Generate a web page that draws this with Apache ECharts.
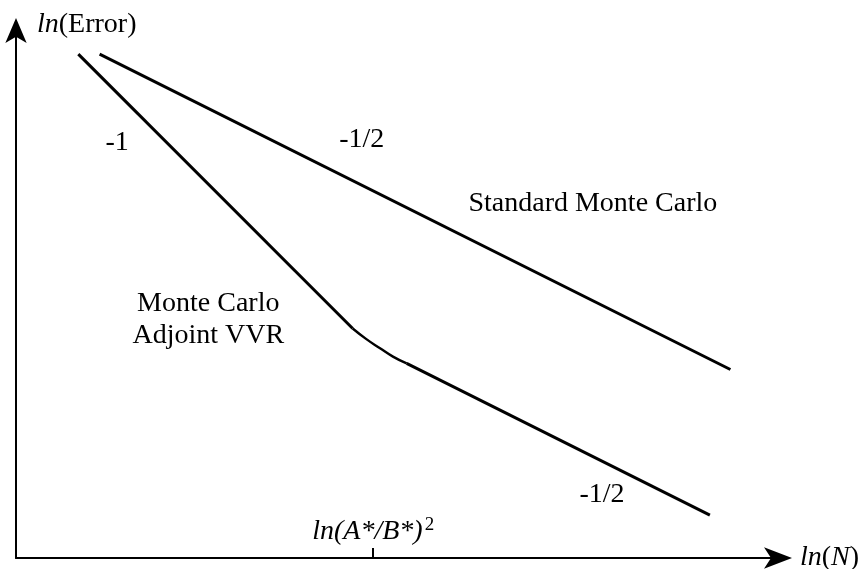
<!DOCTYPE html>
<html>
<head>
<meta charset="utf-8">
<script src="https://cdn.jsdelivr.net/npm/echarts@6/dist/echarts.min.js"></script>
<style>
  html, body { margin: 0; padding: 0; background: #fff; }
  #chart { width: 865px; height: 569px; }
</style>
</head>
<body>
<div id="chart"></div>
<script>
// Error-versus-sample-size sketch in ln/ln units (equal scale on both axes)
const FONT = 'Liberation Serif';
const FS = 28;

// Standard Monte Carlo: slope -1/2 throughout
const stdX = [1.10, 9.40];
const stdY = [6.63, 2.48];

// Monte Carlo with adjoint VVR: slope -1, a bend, then slope -1/2
const adjSteepX = [0.82, 4.43];
const adjSteepY = [6.63, 3.02];
const adjBendX = [4.43, 4.61, 4.79, 4.96, 5.14];
const adjBendY = [3.02, 2.88, 2.76, 2.65, 2.56];
const adjShallowX = [5.14, 9.13];
const adjShallowY = [2.56, 0.565];

// crossover point marked on the ln(N) axis
const crossoverX = [4.70];

// annotation texts and where they sit (data units)
const noteText = ['-1', '-1/2', 'Standard Monte Carlo', 'Monte Carlo\nAdjoint VVR', '-1/2'];
const noteX = [1.33, 4.55, 7.59, 2.53, 7.71];
const noteY = [5.46, 5.51, 4.66, 3.13, 0.83];

const zip = (xs, ys) => xs.map((x, i) => [x, ys[i]]);

const lineSeries = (xs, ys, width, smooth) => ({
  type: 'line',
  data: zip(xs, ys),
  showSymbol: false,
  smooth: smooth,
  silent: true,
  lineStyle: { color: '#000', width: width },
  z: 3
});

const italic = { fontFamily: FONT, fontSize: FS, fontStyle: 'italic', color: '#000' };
const upright = { fontFamily: FONT, fontSize: FS, color: '#000' };

const chart = echarts.init(document.getElementById('chart'), null, { renderer: 'canvas' });

chart.setOption({
  animation: false,
  backgroundColor: '#fff',
  textStyle: { fontFamily: FONT, color: '#000' },
  grid: {
    left: 16, right: 89, top: 26, bottom: 11,
    containLabel: false,
    outerBoundsMode: 'none'
  },
  xAxis: {
    type: 'value',
    min: 0, max: 10,
    splitLine: { show: false },
    axisLine: {
      show: true, onZero: false,
      symbol: ['none', 'arrow'],
      symbolSize: [16, 28],
      symbolOffset: [0, 16],
      lineStyle: { color: '#000', width: 2 }
    },
    axisTick: {
      show: true, inside: true, length: 10,
      customValues: crossoverX,
      lineStyle: { color: '#000', width: 2 }
    },
    axisLabel: {
      show: true, inside: true, margin: 11,
      customValues: crossoverX,
      formatter: () => '{i|ln(A*/B*)}{s|2}',
      rich: {
        i: italic,
        s: { fontFamily: FONT, fontSize: 19, color: '#000', padding: [0, 0, 12, 2] }
      }
    },
    name: '{i|ln}{n|(}{i|N}{n|)}',
    nameLocation: 'end',
    nameGap: 24,
    nameTextStyle: {
      align: 'left', verticalAlign: 'middle',
      rich: { i: italic, n: upright }
    }
  },
  yAxis: {
    type: 'value',
    min: 0, max: 7,
    splitLine: { show: false },
    axisTick: { show: false },
    axisLabel: { show: false },
    axisLine: {
      show: true, onZero: false,
      symbol: ['none', 'arrow'],
      symbolSize: [16, 25],
      symbolOffset: [0, 8],
      lineStyle: { color: '#000', width: 2 }
    },
    name: '{i|ln}{n|(Error)}',
    nameLocation: 'end',
    nameGap: 1,
    nameTextStyle: {
      align: 'left', verticalAlign: 'middle',
      padding: [0, 0, 0, 21],
      rich: { i: italic, n: upright }
    }
  },
  series: [
    lineSeries(stdX, stdY, 3, false),
    lineSeries(adjSteepX, adjSteepY, 3, false),
    lineSeries(adjBendX, adjBendY, 2.4, true),
    lineSeries(adjShallowX, adjShallowY, 3, false),
    {
      type: 'scatter',
      silent: true,
      symbolSize: 0,
      itemStyle: { color: '#000', opacity: 1 },
      data: noteText.map((t, i) => ({ name: t, value: [noteX[i], noteY[i]] })),
      label: {
        show: true,
        position: 'inside',
        formatter: '{b}',
        fontFamily: FONT,
        fontSize: FS,
        lineHeight: 32,
        color: '#000',
        opacity: 1,
        textBorderWidth: 0,
        align: 'center',
        verticalAlign: 'middle'
      }
    }
  ]
});
</script>
</body>
</html>
